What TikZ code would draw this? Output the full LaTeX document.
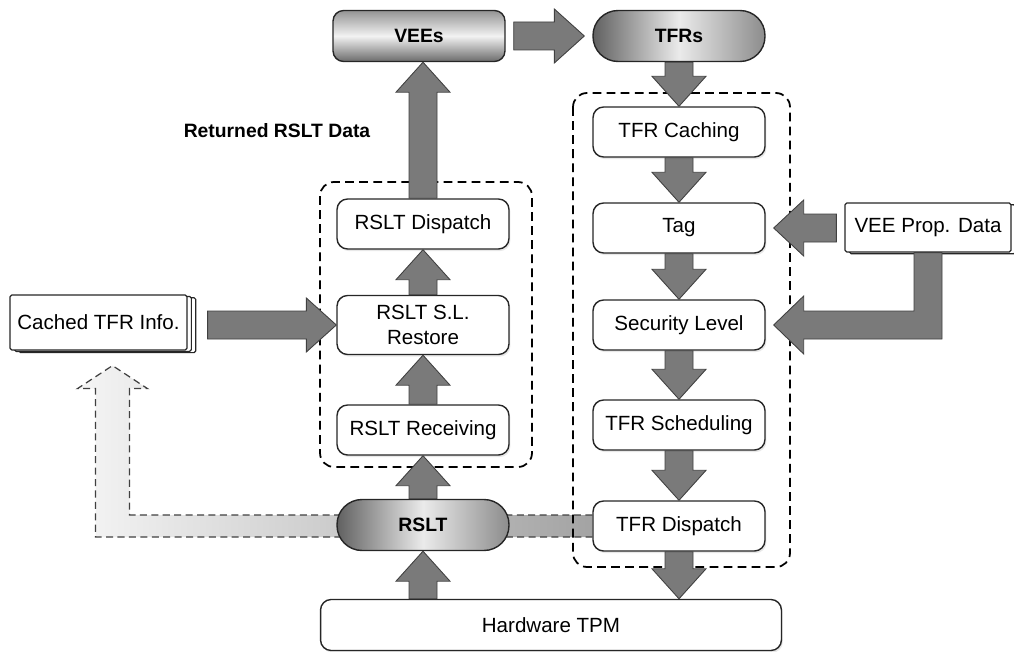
\documentclass[tikz,border=0pt]{standalone}
\usepackage{fontspec}
\setmainfont{Liberation Sans}
\usetikzlibrary{calc}
\usetikzlibrary{shadows}
\usetikzlibrary{backgrounds}
\usetikzlibrary{positioning}

\tikzset{
  procbox/.style={draw=black!85, line width=0.8pt, rounded corners=6pt, fill=white,
    minimum width=3.44cm, minimum height=1cm, align=center,
    font=\fontsize{11.7}{14}\selectfont,
    drop shadow={opacity=0.18, shadow xshift=0.8pt, shadow yshift=-1.2pt}},
  pillbox/.style={draw=black!85, line width=0.8pt, rounded corners=0.5cm,
    minimum width=3.44cm, minimum height=1.02cm,
    font=\bfseries\fontsize{11}{13}\selectfont,
    left color=black!62, right color=black!45, middle color=black!8},
  topbox/.style={draw=black!85, line width=0.8pt, rounded corners=6pt,
    minimum width=3.44cm, minimum height=1.02cm,
    font=\bfseries\fontsize{11}{13}\selectfont,
    top color=black!42, bottom color=black!58, middle color=black!5},
  docbox/.style={draw=black!85, line width=0.7pt, fill=white, rounded corners=1pt,
    font=\fontsize{11.7}{14}\selectfont},
  groupbox/.style={draw, dash pattern=on 5pt off 3pt, line width=1pt, rounded corners=8pt},
  fatarr/.style={draw=black!75, line width=0.5pt, fill=black!52, line join=miter},
  backarr/.style={draw=black!75, dash pattern=on 4pt off 2.5pt, line width=0.7pt,
    left color=black!4, right color=black!36}
}

% fat block arrows, start point and tip
\newcommand{\arrup}[2]{\draw[fatarr] ($(#1)+(-14,0)$) -- ($(#2)+(-14,30)$) -- ($(#2)+(-27,30)$) -- (#2) -- ($(#2)+(27,30)$) -- ($(#2)+(14,30)$) -- ($(#1)+(14,0)$) -- cycle;}
\newcommand{\arrdown}[2]{\draw[fatarr] ($(#1)+(-14,0)$) -- ($(#2)+(-14,-30)$) -- ($(#2)+(-27,-30)$) -- (#2) -- ($(#2)+(27,-30)$) -- ($(#2)+(14,-30)$) -- ($(#1)+(14,0)$) -- cycle;}
\newcommand{\arrleft}[2]{\draw[fatarr] ($(#1)+(0,-14)$) -- ($(#2)+(30,-14)$) -- ($(#2)+(30,-28)$) -- (#2) -- ($(#2)+(30,28)$) -- ($(#2)+(30,14)$) -- ($(#1)+(0,14)$) -- cycle;}
\newcommand{\arrright}[2]{\draw[fatarr] ($(#1)+(0,-14)$) -- ($(#2)+(-30,-14)$) -- ($(#2)+(-30,-27)$) -- (#2) -- ($(#2)+(-30,27)$) -- ($(#2)+(-30,14)$) -- ($(#1)+(0,14)$) -- cycle;}

\begin{document}
\begin{tikzpicture}[x=0.02cm, y=-0.02cm, line join=round]
\useasboundingbox (0,0) rectangle (1014,652);

% top row
\node[topbox] (vees) at (419,36) {VEEs};
\node[pillbox] (tfrs) at (679,36) {TFRs};
\node[font=\bfseries\fontsize{11}{13}\selectfont] (retlbl) at (277,131) {Returned RSLT Data};

% result path
\node[procbox] (rdisp) at (423,224) {RSLT Dispatch};
\node[procbox, minimum height=1.18cm] (rrest) at (423,325) {RSLT S.L.\\Restore};
\node[procbox] (rrecv) at (423,430) {RSLT Receiving};
\node[pillbox] (rslt) at (423,525) {RSLT};

% request path
\node[procbox] (tcach) at (679,132) {TFR Caching};
\node[procbox] (tag) at (679,228) {Tag};
\node[procbox] (seclvl) at (679,325) {Security Level};
\node[procbox] (tsched) at (679,425) {TFR Scheduling};
\node[procbox] (tdisp) at (679,526) {TFR Dispatch};

\node[procbox, minimum width=9.22cm, minimum height=1.02cm] (hw) at (551,625) {Hardware TPM};

% side data
\node[docbox, minimum width=3.54cm, minimum height=1.1cm,
  copy shadow={shadow xshift=5pt, shadow yshift=-1.5pt},
  copy shadow={shadow xshift=2.5pt, shadow yshift=-0.8pt}] (cache) at (98.5,322.5) {Cached TFR Info.};
\node[docbox, minimum width=3.32cm, minimum height=0.98cm,
  copy shadow={shadow xshift=2.5pt, shadow yshift=-1pt}] (veeprop) at (928,227.5) {VEE Prop. Data};

\begin{scope}[on background layer]
\coordinate (ctip) at ($(cache.south)+(14,15)$);
\draw[backarr] ($(tdisp.west)+(0,-11)$) -- ($(ctip |- tdisp.west)+(17,-11)$) -- ($(ctip)+(17,23)$) -- ($(ctip)+(35,23)$) -- (ctip) -- ($(ctip)+(-35,23)$) -- ($(ctip)+(-17,23)$) -- ($(ctip |- tdisp.west)+(-17,11)$) -- ($(tdisp.west)+(0,11)$);
\draw[groupbox] (320,182) rectangle (532,467);
\draw[groupbox] (573,93) rectangle (790,567);
\end{scope}

% arrows
\coordinate (a1) at ($(vees.east)+(8,0)$);
\coordinate (a2) at ($(tfrs.west)+(-8,0)$);
\arrright{a1}{a2}
\arrdown{tfrs.south}{tcach.north}
\arrdown{tcach.south}{tag.north}
\arrdown{tag.south}{seclvl.north}
\arrdown{seclvl.south}{tsched.north}
\arrdown{tsched.south}{tdisp.north}
\arrdown{tdisp.south}{tdisp.south |- hw.north}
\arrup{rslt.south |- hw.north}{rslt.south}
\arrup{rslt.north}{rrecv.south}
\arrup{rrecv.north}{rrest.south}
\arrup{rrest.north}{rdisp.south}
\arrup{rdisp.north}{rdisp.north |- vees.south}

\coordinate (cout) at ($(cache.east |- rrest.west)+(20,0)$);
\arrright{cout}{rrest.west}

\coordinate (vtip) at ($(tag.east)+(8,0)$);
\coordinate (vout) at ($(veeprop.west |- tag.east)+(-8,0)$);
\arrleft{vout}{vtip}

\coordinate (stip) at ($(seclvl.east)+(8,0)$);
\draw[fatarr] ($(veeprop.south)+(-14,0)$) -- ($(veeprop.south |- stip)+(-14,-14)$) -- ($(stip)+(30,-14)$) -- ($(stip)+(30,-29)$) -- (stip) -- ($(stip)+(30,29)$) -- ($(stip)+(30,14)$) -- ($(veeprop.south |- stip)+(14,14)$) -- ($(veeprop.south)+(14,0)$) -- cycle;
\end{tikzpicture}
\end{document}
